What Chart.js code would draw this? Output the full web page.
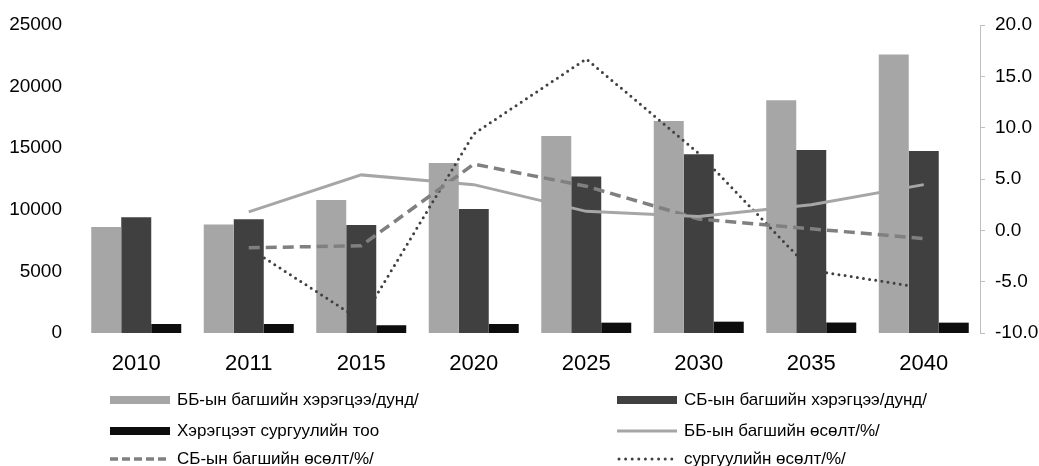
<!DOCTYPE html>
<html>
<head>
<meta charset="utf-8">
<script src="https://cdn.jsdelivr.net/npm/chart.js@4/dist/chart.umd.min.js"></script>
<style>
  html, body { margin: 0; padding: 0; background: #fff; }
  #wrap { width: 1039px; height: 466px; position: relative; }
</style>
</head>
<body>
<div id="wrap"><canvas id="c" width="1039" height="466"></canvas></div>
<script>
// ---- data ----
const categories = ['2010', '2011', '2015', '2020', '2025', '2030', '2035', '2040'];
const bbNeed = [8600, 8800, 10800, 13800, 16000, 17200, 18900, 22600];
const sbNeed = [9400, 9230, 8770, 10060, 12700, 14500, 14850, 14770];
const schoolNeed = [730, 730, 630, 730, 840, 920, 850, 840];
const bbGrowth = [null, 1.8, 5.4, 4.45, 1.85, 1.35, 2.5, 4.45];
const sbGrowth = [null, -1.7, -1.5, 6.45, 4.3, 1.1, 0.15, -0.8];
const schoolGrowth = [null, -1.7, -8.8, 9.4, 16.7, 7.5, -3.9, -5.6];
const leftTicks = [0, 5000, 10000, 15000, 20000, 25000];
const rightTicks = [-10, -5, 0, 5, 10, 15, 20];

const FONT = "'Liberation Sans', Arial, sans-serif";

const legendPlugin = {
  id: 'twoColLegend',
  afterDraw(chart) {
    const ctx = chart.ctx;
    const cols = [110, 617];
    const rows = [400, 431, 459];
    const markW = 60;
    chart.data.datasets.forEach((ds, i) => {
      const x = cols[i % 2];
      const y = rows[Math.floor(i / 2)];
      ctx.save();
      if (ds.type === 'bar') {
        ctx.fillStyle = ds.backgroundColor;
        ctx.fillRect(x, y - 4, markW, 8);
      } else {
        ctx.strokeStyle = ds.borderColor;
        ctx.lineWidth = ds.borderWidth;
        ctx.lineCap = ds.borderCapStyle || 'butt';
        ctx.setLineDash(ds.legendDash || ds.borderDash || []);
        ctx.beginPath();
        ctx.moveTo(x + (ds.lineCapPad || 0), y);
        ctx.lineTo(x + markW, y);
        ctx.stroke();
      }
      ctx.restore();
      ctx.save();
      ctx.fillStyle = '#000';
      ctx.font = '17px ' + FONT;
      ctx.textBaseline = 'middle';
      ctx.textAlign = 'left';
      ctx.fillText(ds.label, x + markW + 7, y);
      ctx.restore();
    });
  }
};

new Chart(document.getElementById('c'), {
  data: {
    labels: categories,
    datasets: [
      { type: 'bar', label: 'ББ-ын багшийн хэрэгцээ/дунд/', data: bbNeed, backgroundColor: '#a6a6a6', yAxisID: 'y', order: 2 },
      { type: 'bar', label: 'СБ-ын багшийн хэрэгцээ/дунд/', data: sbNeed, backgroundColor: '#404040', yAxisID: 'y', order: 2 },
      { type: 'bar', label: 'Хэрэгцээт сургуулийн тоо', data: schoolNeed, backgroundColor: '#0d0d0d', yAxisID: 'y', order: 2 },
      { type: 'line', label: 'ББ-ын багшийн өсөлт/%/', data: bbGrowth, borderColor: '#a6a6a6', borderWidth: 3, pointRadius: 0, yAxisID: 'y1', order: 1, tension: 0 },
      { type: 'line', label: 'СБ-ын багшийн өсөлт/%/', data: sbGrowth, borderColor: '#808080', borderWidth: 3.5, borderDash: [11, 6], legendDash: [8, 4], pointRadius: 0, yAxisID: 'y1', order: 1, tension: 0 },
      { type: 'line', label: 'сургуулийн өсөлт/%/', data: schoolGrowth, borderColor: '#404040', borderWidth: 3, borderCapStyle: 'round', borderDash: [0, 6.2], legendDash: [0, 6.6], lineCapPad: 2, pointRadius: 0, yAxisID: 'y1', order: 1, tension: 0 }
    ]
  },
  options: {
    responsive: false,
    animation: false,
    events: [],
    layout: { padding: { top: 25, bottom: 88, left: 0, right: 0 } },
    datasets: { bar: { categoryPercentage: 0.8, barPercentage: 1.0 } },
    plugins: { legend: { display: false }, tooltip: { enabled: false } },
    scales: {
      x: {
        grid: { display: false, drawTicks: false },
        border: { display: false },
        ticks: { color: '#000', font: { family: FONT, size: 22 }, padding: 18, maxRotation: 0 },
        afterFit: s => { s.height = 45; s.paddingLeft = 0; s.paddingRight = 0; }
      },
      y: {
        position: 'left',
        min: 0, max: 25000,
        afterBuildTicks: s => { s.ticks = leftTicks.map(v => ({ value: v })); },
        grid: { display: false, drawTicks: false },
        border: { display: false },
        ticks: { color: '#000', font: { family: FONT, size: 19 }, padding: 18, callback: v => String(v) },
        afterFit: s => { s.width = 80; s.paddingTop = 0; s.paddingBottom = 0; }
      },
      y1: {
        position: 'right',
        min: -10, max: 20,
        afterBuildTicks: s => { s.ticks = rightTicks.map(v => ({ value: v })); },
        grid: { display: true, drawOnChartArea: false, drawTicks: true, tickLength: 5, color: '#bfbfbf', lineWidth: 1 },
        border: { display: true, color: '#bfbfbf', width: 1 },
        ticks: { color: '#000', font: { family: FONT, size: 19 }, padding: 10, callback: v => Number(v).toFixed(1) },
        afterFit: s => { s.width = 59; s.paddingTop = 0; s.paddingBottom = 0; }
      }
    }
  },
  plugins: [legendPlugin]
});
</script>
</body>
</html>
